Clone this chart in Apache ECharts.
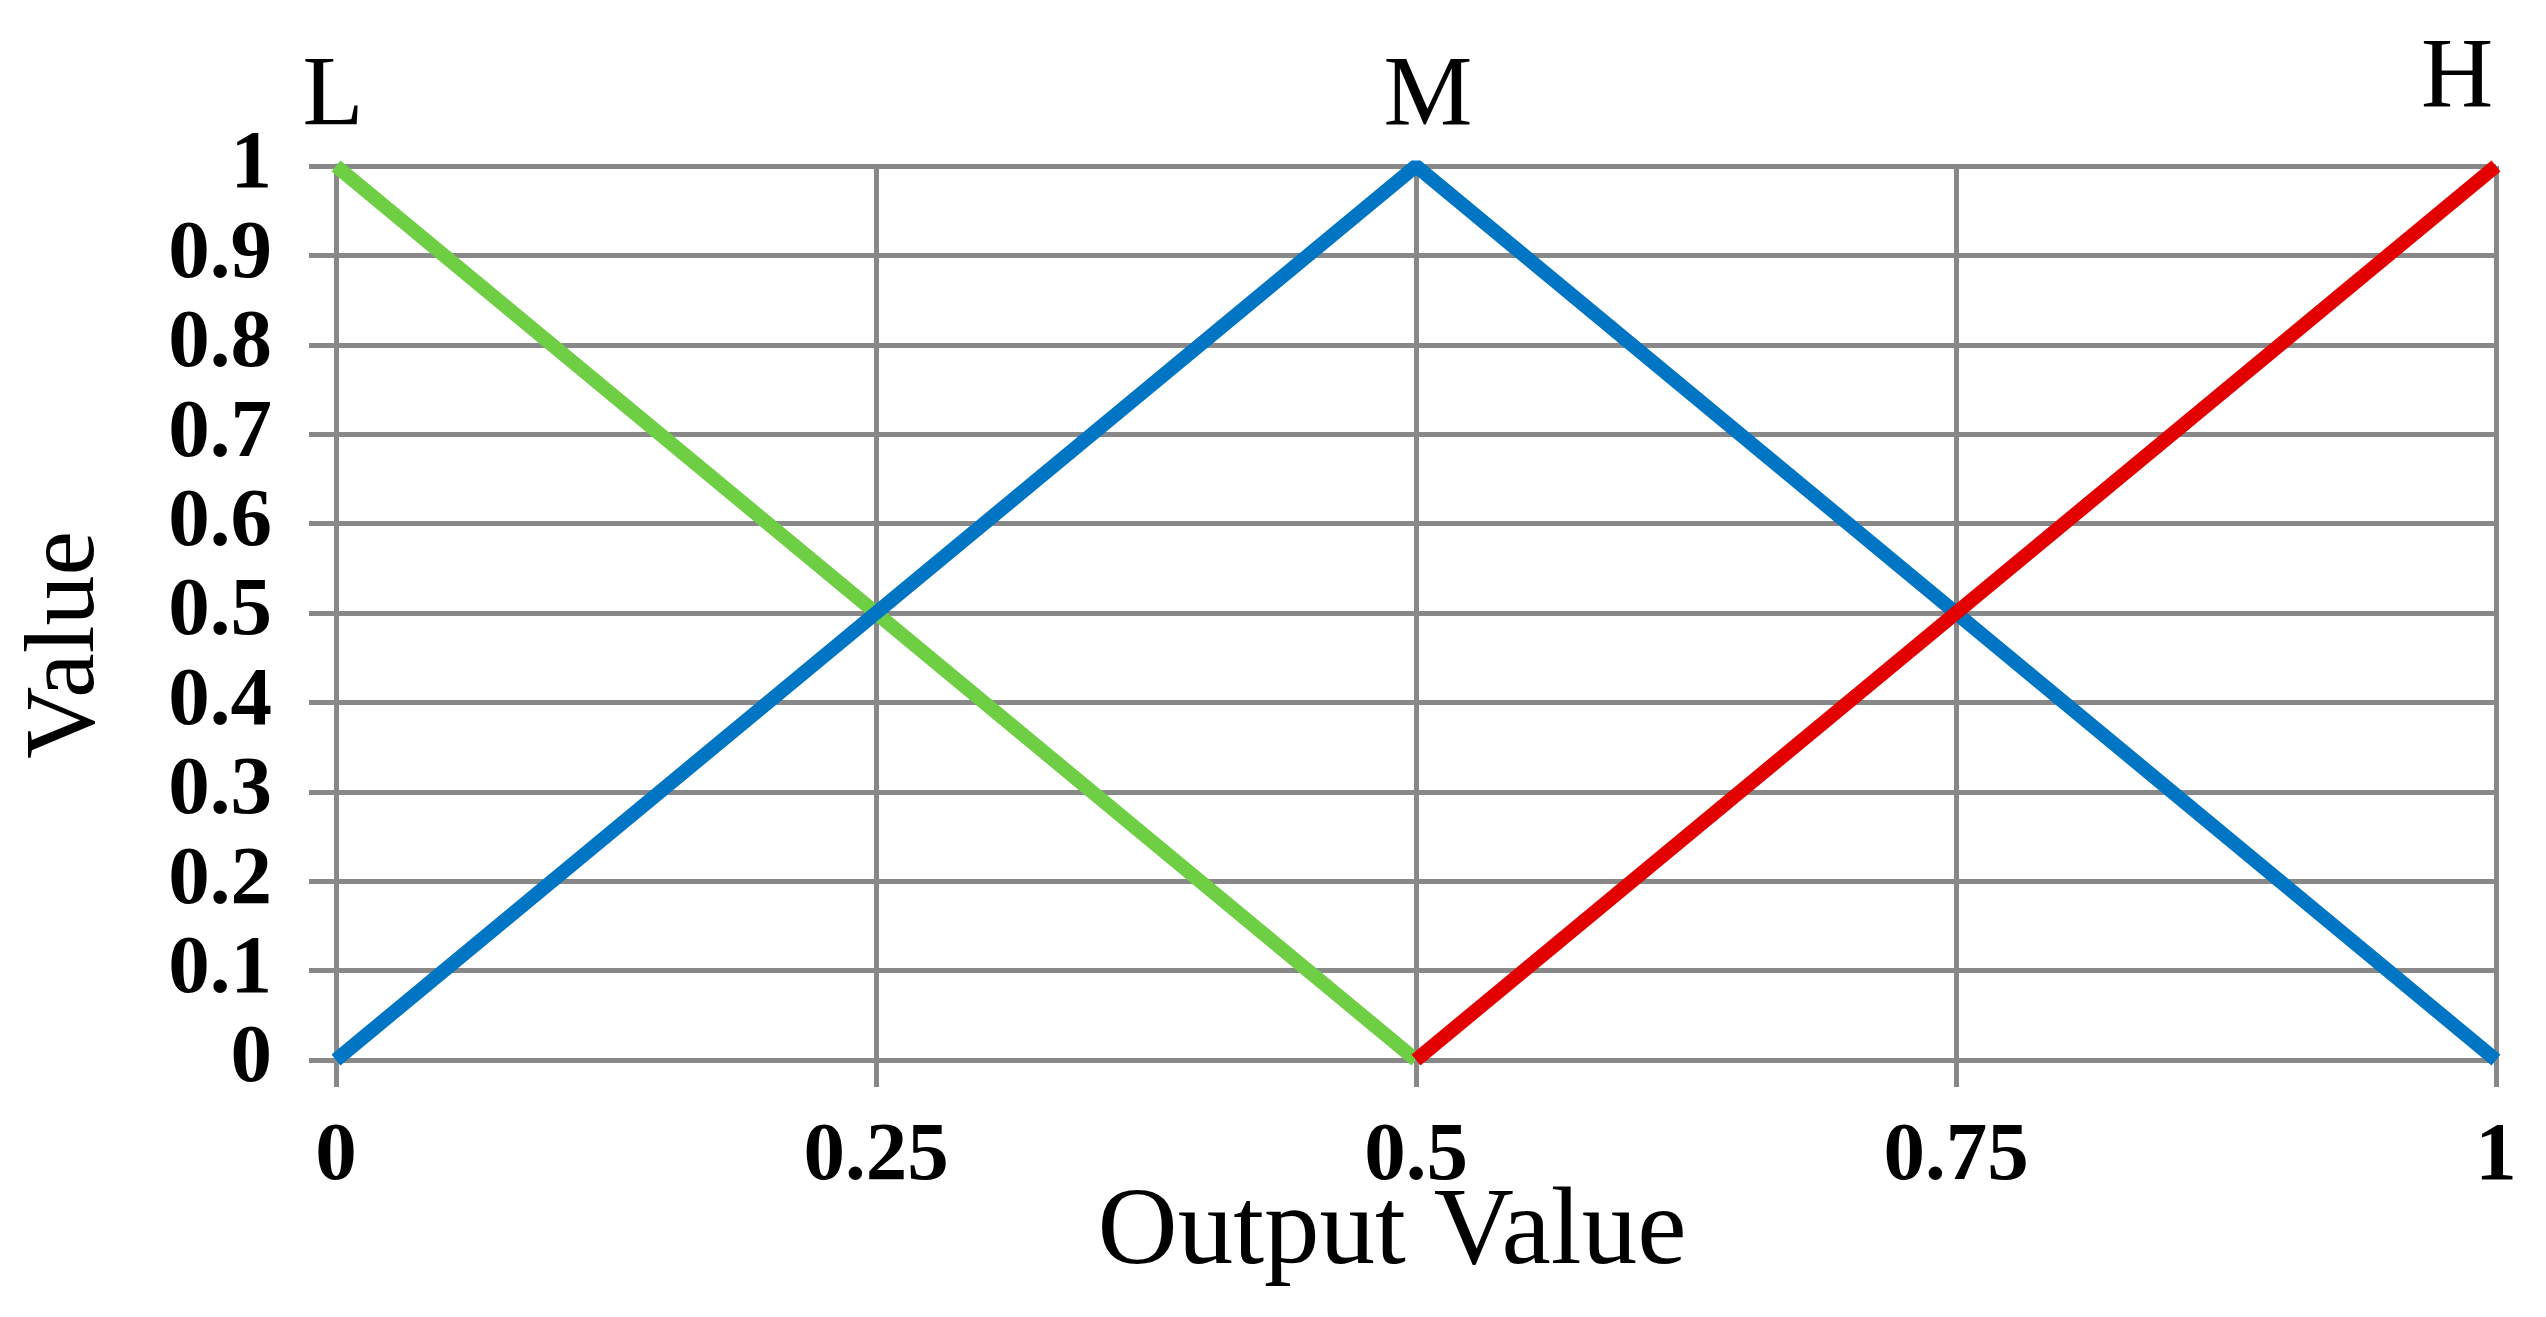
<!DOCTYPE html>
<html>
<head>
<meta charset="utf-8">
<script src="https://cdn.jsdelivr.net/npm/echarts@6/dist/echarts.min.js"></script>
<style>
html,body{margin:0;padding:0;background:#fff;}
#chart{width:2546px;height:1317px;}
</style>
</head>
<body>
<div id="chart"></div>
<script>
// Data
var xTicks = [0, 0.25, 0.5, 0.75, 1];
var lowX = [0, 0.5];
var lowY = [1, 0];
var midX = [0, 0.5, 1];
var midY = [0, 1, 0];
var highX = [0.5, 1];
var highY = [0, 1];
var setNames = ['L', 'M', 'H'];
var colors = ['#6ecf44', '#0075c4', '#e30000'];

var FONT = '"Liberation Serif", "Times New Roman", serif';

function buildData(xs, ys, peakIdx, name, offset) {
  return xs.map(function (x, i) {
    var item = { value: [x, ys[i]] };
    if (i === peakIdx) {
      item.label = {
        show: true,
        formatter: name,
        position: 'top',
        distance: 18,
        offset: offset,
        fontFamily: FONT,
        fontSize: 100,
        lineHeight: 100,
        color: '#000'
      };
    }
    return item;
  });
}

var chart = echarts.init(document.getElementById('chart'));
var option = {
  backgroundColor: '#ffffff',
  animation: false,
  grid: { left: 336, right: 50, top: 166, bottom: 257, containLabel: false },
  xAxis: {
    type: 'value',
    min: 0, max: 1, interval: 0.25,
    name: 'Output Value',
    nameLocation: 'middle',
    nameMoveOverlap: false,
    nameGap: 118,
    nameTextStyle: { fontFamily: FONT, fontSize: 111, lineHeight: 111, color: '#000', padding: [0, 48, 0, 0] },
    axisLine: { show: true, lineStyle: { color: '#888', width: 5 } },
    axisTick: { show: true, length: 27, lineStyle: { color: '#888', width: 5 } },
    axisLabel: {
      margin: 56, fontFamily: FONT, fontSize: 83, fontWeight: 'bold', color: '#000',
      formatter: function (v) { return String(v); }
    },
    splitLine: { show: true, lineStyle: { color: '#888', width: 5 } }
  },
  yAxis: {
    type: 'value',
    min: 0, max: 1, interval: 0.1,
    name: 'Value',
    nameLocation: 'middle',
    nameRotate: 90,
    nameGap: 219,
    nameTextStyle: { fontFamily: FONT, fontSize: 100, color: '#000', padding: [0, 64, 0, 0] },
    axisLine: { show: true, lineStyle: { color: '#888', width: 5 } },
    axisTick: { show: true, length: 27, lineStyle: { color: '#888', width: 5 } },
    axisLabel: {
      margin: 64, fontFamily: FONT, fontSize: 83, fontWeight: 'bold', color: '#000',
      formatter: function (v) { return String(Math.round(v * 10) / 10); }
    },
    splitLine: { show: true, lineStyle: { color: '#888', width: 5 } }
  },
  series: [
    {
      type: 'line', name: setNames[0],
      data: buildData(lowX, lowY, 0, setNames[0], [-3, 0]),
      showSymbol: true, symbol: 'circle', symbolSize: 0.1,
      lineStyle: { color: colors[0], width: 14, cap: 'butt' },
      itemStyle: { color: colors[0] },
      z: 3
    },
    {
      type: 'line', name: setNames[1],
      data: buildData(midX, midY, 1, setNames[1], [12, 0]),
      showSymbol: true, symbol: 'circle', symbolSize: 0.1,
      lineStyle: { color: colors[1], width: 14, cap: 'butt' },
      itemStyle: { color: colors[1] },
      z: 4
    },
    {
      type: 'line', name: setNames[2],
      data: buildData(highX, highY, 1, setNames[2], [-39, -18]),
      showSymbol: true, symbol: 'circle', symbolSize: 0.1,
      lineStyle: { color: colors[2], width: 14, cap: 'butt' },
      itemStyle: { color: colors[2] },
      z: 5
    }
  ]
};
chart.setOption(option);
</script>
</body>
</html>
